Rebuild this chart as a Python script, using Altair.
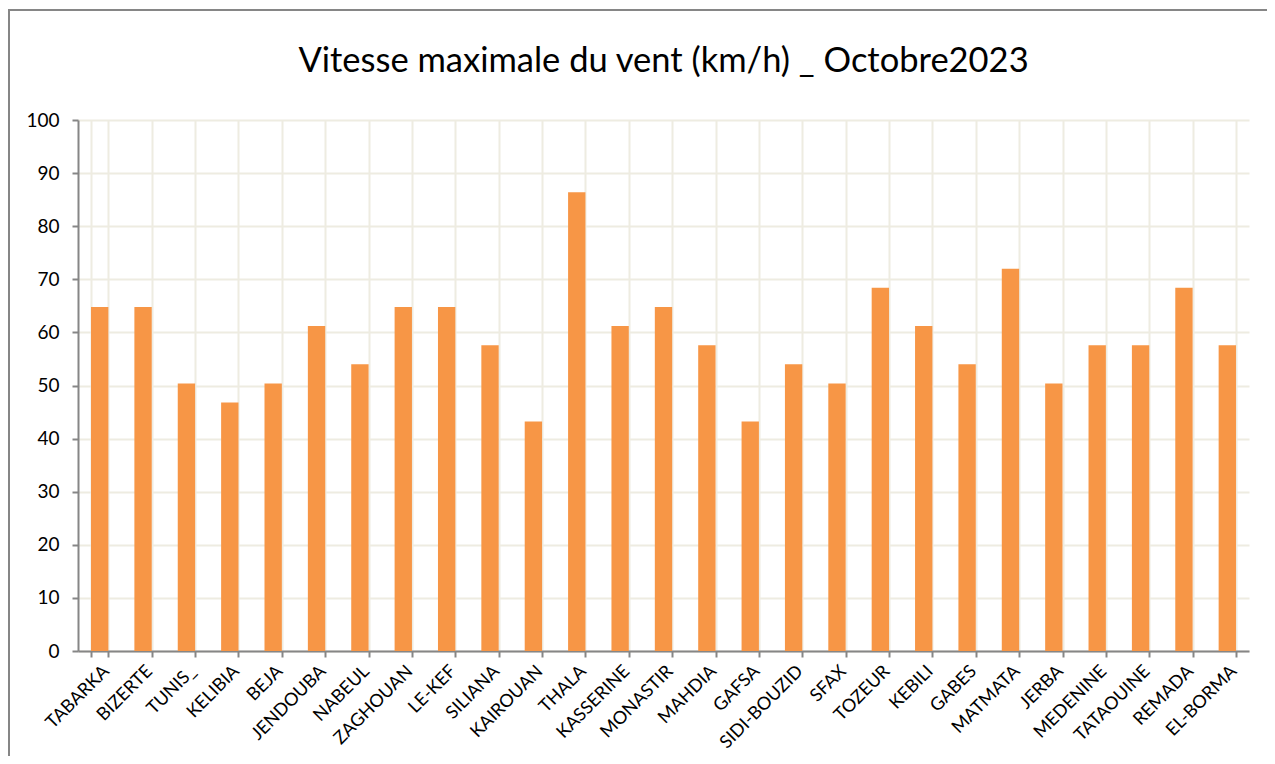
import altair as alt
import pandas as pd

stations = ["TABARKA", "BIZERTE", "TUNIS_", "KELIBIA", "BEJA", "JENDOUBA", "NABEUL",
            "ZAGHOUAN", "LE-KEF", "SILIANA", "KAIROUAN", "THALA", "KASSERINE", "MONASTIR",
            "MAHDIA", "GAFSA", "SIDI-BOUZID", "SFAX", "TOZEUR", "KEBILI", "GABES",
            "MATMATA", "JERBA", "MEDENINE", "TATAOUINE", "REMADA", "EL-BORMA"]
vitesse = [64.8, 64.8, 50.4, 46.8, 50.4, 61.2, 54.0,
           64.8, 64.8, 57.6, 43.2, 86.4, 61.2, 64.8,
           57.6, 43.2, 54.0, 50.4, 68.4, 61.2, 54.0,
           72.0, 50.4, 57.6, 57.6, 68.4, 57.6]
y_ticks = [0, 10, 20, 30, 40, 50, 60, 70, 80, 90, 100]
title_text = "Vitesse maximale du vent (km/h) _ Octobre2023"

df = pd.DataFrame({"station": stations, "vitesse": vitesse})

FONT = "Lato"
GRID = "#EEECE1"
AXIS = "#868686"

bars = alt.Chart(df).mark_bar(color="#F79646").encode(
    x=alt.X("station:N", sort=stations,
            scale=alt.Scale(paddingInner=0.6, paddingOuter=0.3),
            axis=alt.Axis(title=None, labelAngle=-45, labelFontSize=18, labelFont=FONT,
                          labelColor="#000000", tickBand="extent", grid=True,
                          gridColor=GRID, gridWidth=2, domainColor=AXIS, domainWidth=2,
                          tickColor=AXIS, tickWidth=2, tickSize=6, labelPadding=5)),
    y=alt.Y("vitesse:Q", scale=alt.Scale(domain=[0, 100], nice=False),
            axis=alt.Axis(title=None, values=y_ticks, labelFontSize=19, labelFont=FONT,
                          labelColor="#000000", grid=True, gridColor=GRID, gridWidth=2,
                          domainColor=AXIS, domainWidth=2, tickColor=AXIS, tickWidth=2,
                          tickSize=6, labelPadding=13)),
)

frame = alt.Chart(alt.Data(values=[{"k": 1}])).mark_rect(
    filled=False, stroke=AXIS, strokeWidth=2
).encode(
    x=alt.value(-69), x2=alt.value(1400), y=alt.value(-110), y2=alt.value(900)
)

title = alt.Chart(alt.Data(values=[{"t": title_text}])).mark_text(
    font=FONT, fontSize=34.5, color="#000000", align="center", baseline="alphabetic"
).encode(
    text="t:N", x=alt.value(585.5), y=alt.value(-48)
)

chart = alt.layer(bars, frame, title).properties(
    width=1171, height=531,
    autosize=alt.AutoSizeParams(type="none"),
    padding={"left": 70, "top": 112, "right": 18, "bottom": 105},
).configure_view(stroke=None)

chart.save("out.html", embed_options={"renderer": "svg", "actions": False})
